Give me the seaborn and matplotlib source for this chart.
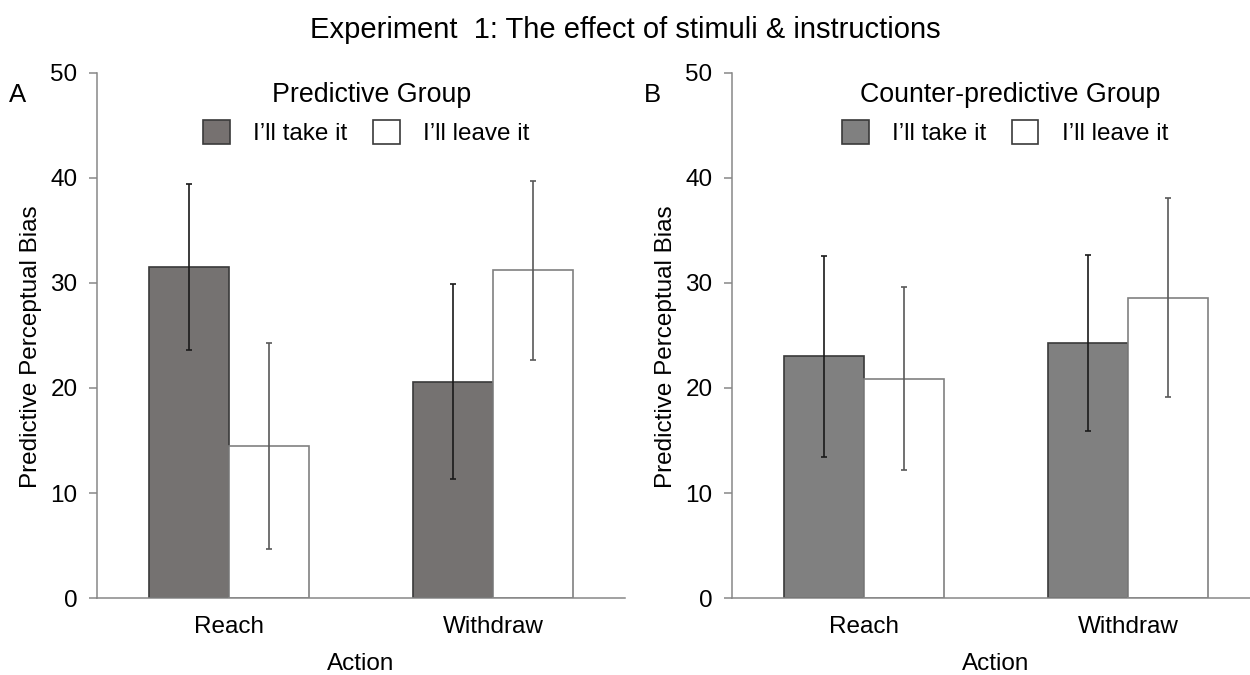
import matplotlib
matplotlib.use("Agg")
import matplotlib.pyplot as plt
import pandas as pd
import seaborn as sns
from matplotlib.patches import Patch

actions = ["Reach", "Withdraw"]
conditions = ["I’ll take it", "I’ll leave it"]

pred_take = [31.5, 20.6]
pred_take_err = [7.9, 9.3]
pred_leave = [14.5, 31.2]
pred_leave_err = [9.8, 8.5]

counter_take = [23.0, 24.3]
counter_take_err = [9.6, 8.4]
counter_leave = [20.9, 28.6]
counter_leave_err = [8.7, 9.5]

sns.set_style("white")
plt.rcParams["font.family"] = ["Liberation Sans", "DejaVu Sans"]
plt.rcParams["text.color"] = "black"
plt.rcParams["axes.labelcolor"] = "black"
plt.rcParams["xtick.labelcolor"] = "black"
plt.rcParams["ytick.labelcolor"] = "black"

AXIS_GREY = "#878787"
FS = 17.5


def make_frame(take, leave):
    rows = []
    for i, a in enumerate(actions):
        rows.append({"Action": a, "Cond": conditions[0], "Bias": take[i]})
        rows.append({"Action": a, "Cond": conditions[1], "Bias": leave[i]})
    return pd.DataFrame(rows)


def draw_panel(ax, take, take_err, leave, leave_err, title, letter, take_color, legend_x):
    df = make_frame(take, leave)
    sns.barplot(
        data=df, x="Action", y="Bias", hue="Cond", hue_order=conditions,
        order=actions, palette=[take_color, "white"], width=0.606,
        errorbar=None, legend=False, ax=ax, linewidth=1.2,
    )
    # bar edges and error bars
    errs = {conditions[0]: take_err, conditions[1]: leave_err}
    for cont, cond in zip(ax.containers, conditions):
        for i, bar in enumerate(cont):
            if cond == conditions[0]:
                bar.set_edgecolor("#3a3a3a")
                ecol = "#1a1a1a"
            else:
                bar.set_edgecolor("#808080")
                ecol = "#595959"
            xc = bar.get_x() + bar.get_width() / 2
            ax.errorbar(xc, bar.get_height(), yerr=errs[cond][i], fmt="none",
                        ecolor=ecol, elinewidth=1.2, capsize=2.5, capthick=1.2)

    ax.set_xlim(-0.5, 1.5)
    ax.set_ylim(0, 50)
    ax.set_yticks([0, 10, 20, 30, 40, 50])
    ax.set_xticks([0, 1])
    ax.set_xticklabels(actions)
    ax.set_xticks([-0.5, 0.5, 1.5], minor=True)
    ax.tick_params(axis="x", which="major", length=0, pad=13, labelsize=FS)
    ax.tick_params(axis="x", which="minor", length=6, width=1.1, color=AXIS_GREY, direction="out")
    ax.tick_params(axis="y", length=6, width=1.1, color=AXIS_GREY, direction="out", pad=8, labelsize=FS, left=True)
    for s in ["top", "right"]:
        ax.spines[s].set_visible(False)
    for s in ["left", "bottom"]:
        ax.spines[s].set_color(AXIS_GREY)
        ax.spines[s].set_linewidth(1.1)
    ax.set_xlabel("Action", fontsize=FS, labelpad=11)
    ax.set_ylabel("Predictive Perceptual Bias", fontsize=FS)
    ax.yaxis.set_label_coords(-0.105, 0.478)

    ax.text(legend_x + 0.01, 0.958, title, transform=ax.transAxes, ha="center",
            va="center", fontsize=19.3)
    ax.text(-0.15, 0.958, letter, transform=ax.transAxes, ha="center",
            va="center", fontsize=18.5)

    handles = [Patch(facecolor=take_color, edgecolor="#3a3a3a", linewidth=1.2),
               Patch(facecolor="white", edgecolor="#3a3a3a", linewidth=1.2)]
    ax.legend(handles, conditions, ncol=2, frameon=False, loc="center",
              bbox_to_anchor=(legend_x, 0.886), fontsize=FS,
              handlelength=1.1, handleheight=1.1, handletextpad=0.95,
              columnspacing=1.05)


fig = plt.figure(figsize=(12.5, 6.75), dpi=100)
ax_a = fig.add_axes([0.0776, 0.114, 0.4224, 0.778])
ax_b = fig.add_axes([0.5856, 0.114, 0.4224, 0.778])

draw_panel(ax_a, pred_take, pred_take_err, pred_leave, pred_leave_err,
           "Predictive Group", "A", "#767170", 0.51)
draw_panel(ax_b, counter_take, counter_take_err, counter_leave, counter_leave_err,
           "Counter-predictive Group", "B", "#808080", 0.517)

fig.text(0.5, 0.955, "Experiment  1: The effect of stimuli & instructions",
         ha="center", va="center", fontsize=21)

fig.savefig("out.png", dpi=100)
